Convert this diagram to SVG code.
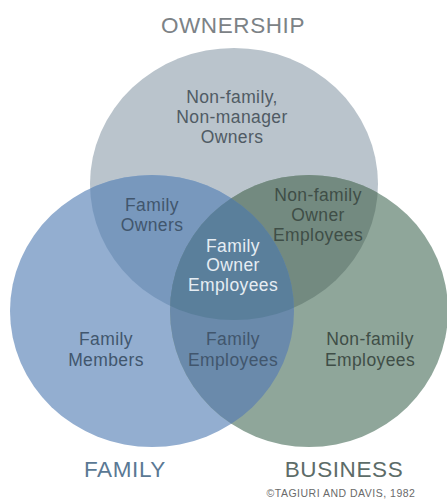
<svg xmlns="http://www.w3.org/2000/svg" width="447" height="501" viewBox="0 0 447 501">
<style>
text{font-family:"Liberation Sans",Arial,sans-serif;text-anchor:middle}
.lbl{font-size:17.5px;letter-spacing:0.4px}
.ttl{font-size:22.5px;letter-spacing:0.6px}
.dark{fill:#505b64}
.green{fill:#3f4e47}
.white{fill:#e6edf3}
.blue{fill:#41566d}
</style>
<defs>
<clipPath id="cO"><ellipse cx="234" cy="184" rx="144" ry="136"/></clipPath>
<clipPath id="cF"><ellipse cx="152" cy="311" rx="142" ry="136"/></clipPath>
<clipPath id="cB"><ellipse cx="309" cy="311" rx="139" ry="136"/></clipPath>
</defs>
<rect width="447" height="501" fill="#ffffff"/>
<g id="ownership">
<ellipse cx="234" cy="184" rx="144" ry="136" fill="#bac4cc"/>
</g>
<g id="family">
<ellipse cx="152" cy="311" rx="142" ry="136" fill="#93aed0"/>
</g>
<g id="business">
<ellipse cx="309" cy="311" rx="139" ry="136" fill="#8fa69a"/>
</g>
<g id="family-owners-region" clip-path="url(#cO)">
<ellipse cx="152" cy="311" rx="142" ry="136" fill="#7898bd"/>
</g>
<g id="nonfamily-owner-employees-region" clip-path="url(#cO)">
<ellipse cx="309" cy="311" rx="139" ry="136" fill="#738a80"/>
</g>
<g id="family-employees-region" clip-path="url(#cF)">
<ellipse cx="309" cy="311" rx="139" ry="136" fill="#6a8aab"/>
</g>
<g id="family-owner-employees-region" clip-path="url(#cO)">
<g clip-path="url(#cF)">
<ellipse cx="309" cy="311" rx="139" ry="136" fill="#5a7f9b"/>
</g>
</g>
<g id="connectors"/>
<g id="labels">
<text class="ttl" x="233" y="33" fill="#7c8286">OWNERSHIP</text>
<text class="lbl dark" x="232" y="103">Non-family,</text>
<text class="lbl dark" x="232" y="123">Non-manager</text>
<text class="lbl dark" x="232" y="143">Owners</text>
<text class="lbl blue" x="152" y="211">Family</text>
<text class="lbl blue" x="152" y="231">Owners</text>
<text class="lbl green" x="318" y="201">Non-family</text>
<text class="lbl green" x="318" y="221">Owner</text>
<text class="lbl green" x="318" y="241">Employees</text>
<text class="lbl white" x="233" y="252">Family</text>
<text class="lbl white" x="233" y="271">Owner</text>
<text class="lbl white" x="233" y="291">Employees</text>
<text class="lbl blue" x="106" y="345">Family</text>
<text class="lbl blue" x="106" y="366">Members</text>
<text class="lbl blue" x="233" y="345">Family</text>
<text class="lbl blue" x="233" y="366">Employees</text>
<text class="lbl green" x="370" y="345">Non-family</text>
<text class="lbl green" x="370" y="366">Employees</text>
<text class="ttl" x="125" y="477" fill="#5a7894">FAMILY</text>
<text class="ttl" x="344" y="477" fill="#5d6c68">BUSINESS</text>
<text x="341" y="497" font-size="10.5" letter-spacing="0.5" fill="#6a6a6a">©TAGIURI AND DAVIS, 1982</text>
</g>
</svg>
